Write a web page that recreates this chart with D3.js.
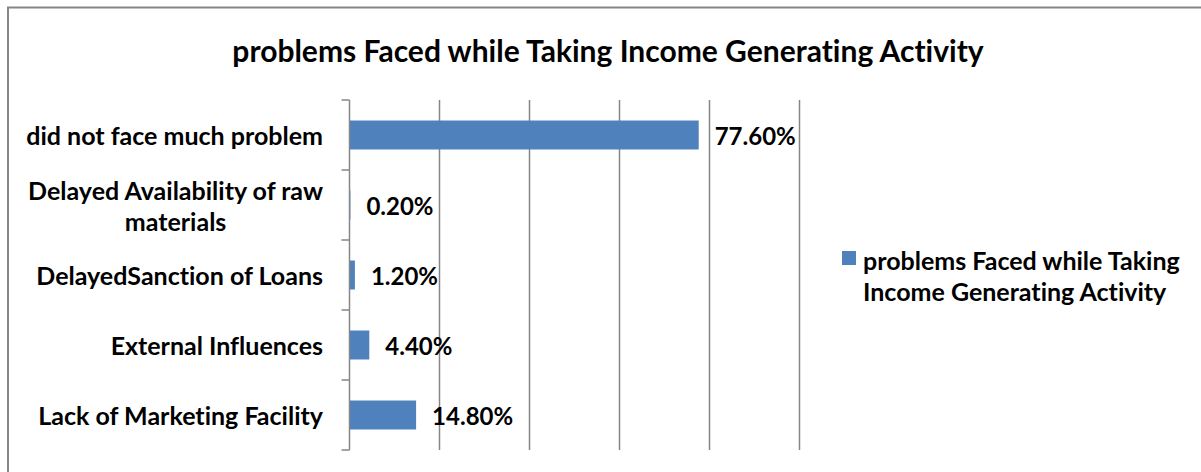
<!DOCTYPE html>
<html>
<head>
<meta charset="utf-8">
<script src="https://cdn.jsdelivr.net/npm/d3@7"></script>
<style>
  html, body { margin: 0; padding: 0; background: #fff; }
  svg text { font-family: Lato, "Open Sans", sans-serif; font-weight: 700; fill: #000;
             font-variant-ligatures: none; font-feature-settings: "liga" 0; }
</style>
</head>
<body>
<svg id="chart" width="1201" height="472"></svg>
<script>
// Survey responses, top to bottom as shown on the category axis
const categories = [
  "did not face much problem",
  "Delayed Availability of raw materials",
  "DelayedSanction of Loans",
  "External Influences",
  "Lack of Marketing Facility"
];
const values = [77.6, 0.2, 1.2, 4.4, 14.8];           // percent
const valueLabels = ["77.60%", "0.20%", "1.20%", "4.40%", "14.80%"];
const gridTicks = [20, 40, 60, 80, 100];
const title = "problems Faced while Taking Income Generating Activity";
const legendLines = ["problems Faced while Taking", "Income Generating Activity"];

const W = 1201, H = 472;
const plot = { left: 349.5, right: 799.5, top: 100, bottom: 450 };
const barColor = "#4F81BD";
const gridColor = "#868686";
const labelSize = 25;
const valueSize = 24;
const lineGap = 31;

const svg = d3.select("#chart");
svg.append("rect").attr("width", W).attr("height", H).attr("fill", "#fff");

// outer chart frame (runs off the right and bottom edges)
svg.append("rect")
  .attr("x", 8).attr("y", 7.5)
  .attr("width", W + 20).attr("height", H + 20)
  .attr("fill", "none").attr("stroke", gridColor).attr("stroke-width", 2);

svg.append("text")
  .attr("x", 608).attr("y", 50)
  .attr("text-anchor", "middle").attr("dominant-baseline", "central")
  .style("font-size", "30px")
  .text(title);

const x = d3.scaleLinear().domain([0, 100]).range([plot.left, plot.right]);
const y = d3.scaleBand().domain(categories)
  .range([plot.top, plot.bottom])
  .paddingInner(0.586).paddingOuter(0.293);

// vertical gridlines
svg.append("g").selectAll("line").data(gridTicks).join("line")
  .attr("x1", d => x(d)).attr("x2", d => x(d))
  .attr("y1", plot.top).attr("y2", plot.bottom)
  .attr("stroke", gridColor).attr("stroke-width", 1.5);

// bars
svg.append("g").selectAll("rect").data(categories).join("rect")
  .attr("x", x(0))
  .attr("y", d => y(d))
  .attr("width", (d, i) => x(values[i]) - x(0))
  .attr("height", y.bandwidth())
  .attr("fill", barColor);

// category axis line with tick marks between categories
const axisG = svg.append("g");
axisG.append("line")
  .attr("x1", plot.left).attr("x2", plot.left)
  .attr("y1", plot.top).attr("y2", plot.bottom)
  .attr("stroke", gridColor).attr("stroke-width", 1.5);
const gap = (y.step() - y.bandwidth()) / 2;
const bounds = categories.map(c => y(c) - gap).concat([plot.bottom]);
axisG.selectAll("line.tick").data(bounds).join("line")
  .attr("class", "tick")
  .attr("x1", plot.left - 8).attr("x2", plot.left)
  .attr("y1", d => d).attr("y2", d => d)
  .attr("stroke", gridColor).attr("stroke-width", 1.5);

// category labels, wrapped; wrapped lines are centred on each other
const labelRight = 323, maxLabelWidth = 318;
const measure = svg.append("text").style("font-size", labelSize + "px");
function widthOf(s) { measure.text(s); return measure.node().getComputedTextLength(); }
function wrap(s) {
  const words = s.split(" "), lines = [];
  let cur = "";
  words.forEach(w => {
    const t = cur ? cur + " " + w : w;
    if (cur && widthOf(t) > maxLabelWidth) { lines.push(cur); cur = w; } else cur = t;
  });
  lines.push(cur);
  return lines;
}
categories.forEach(c => {
  const lines = wrap(c);
  const cy = y(c) + y.bandwidth() / 2;
  const blockW = d3.max(lines, widthOf);
  const multi = lines.length > 1;
  lines.forEach((ln, k) => {
    svg.append("text")
      .attr("x", multi ? labelRight - blockW / 2 : labelRight)
      .attr("y", cy + (k - (lines.length - 1) / 2) * lineGap)
      .attr("text-anchor", multi ? "middle" : "end")
      .attr("dominant-baseline", "central")
      .style("font-size", labelSize + "px")
      .text(ln);
  });
});
measure.remove();

// value labels
svg.append("g").selectAll("text").data(categories).join("text")
  .attr("x", (d, i) => x(values[i]) + 16)
  .attr("y", d => y(d) + y.bandwidth() / 2)
  .attr("dominant-baseline", "central")
  .style("font-size", valueSize + "px")
  .text((d, i) => valueLabels[i]);

// legend
const lg = svg.append("g");
lg.append("rect").attr("x", 842).attr("y", 251).attr("width", 14).attr("height", 14).attr("fill", barColor);
legendLines.forEach((ln, k) => {
  lg.append("text")
    .attr("x", 863).attr("y", 260 + k * lineGap)
    .attr("dominant-baseline", "central")
    .style("font-size", labelSize + "px")
    .text(ln);
});
</script>
</body>
</html>
